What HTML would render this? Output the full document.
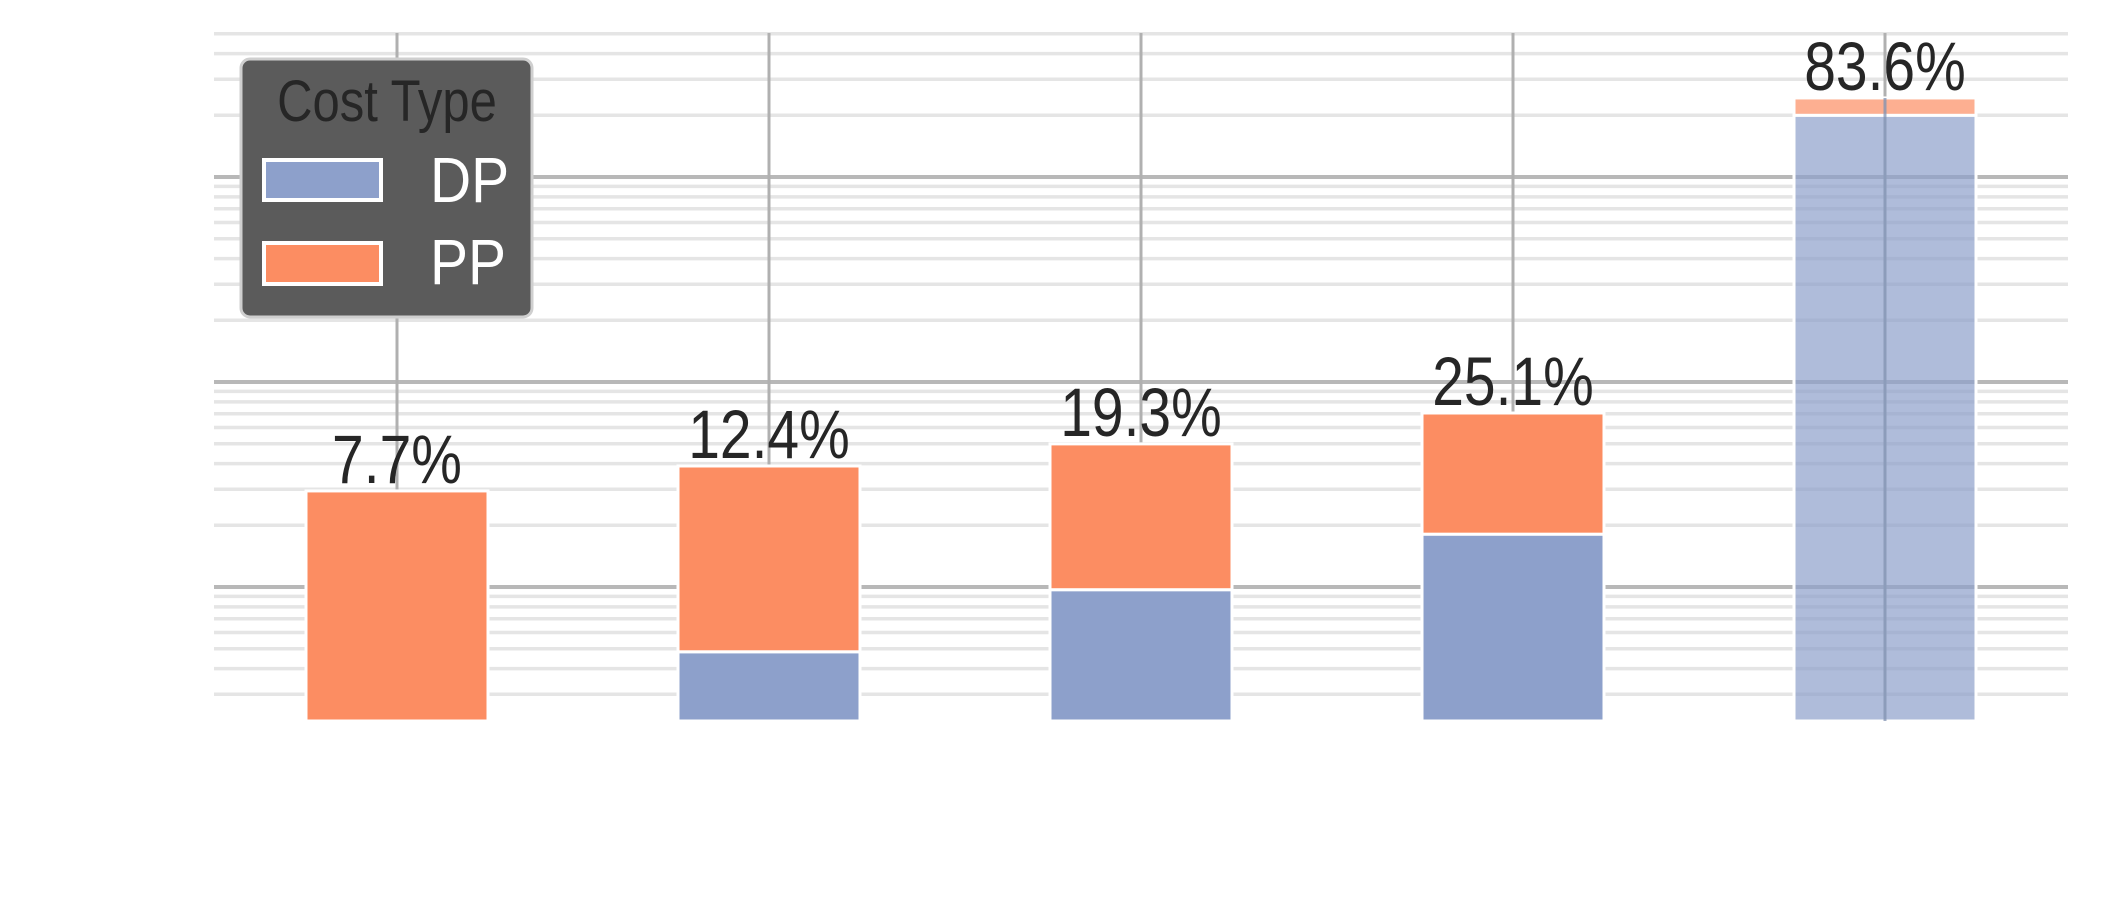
<!DOCTYPE html>
<html><head><meta charset="utf-8"><style>
html,body{margin:0;padding:0;background:#fff;}
svg{display:block;font-family:"Liberation Sans",sans-serif;}
</style></head><body>
<svg id="chart" width="2101" height="907" viewBox="0 0 2101 907" xmlns="http://www.w3.org/2000/svg">
<g id="grid"></g>
<g id="bars"></g>
<g id="labels"></g>
<g id="legend">
  <rect x="241" y="59" width="291" height="258" rx="9" fill="#5b5b5b" stroke="#cfcfcf" stroke-width="3"/>
  <text transform="translate(387,121) scale(1,1.2)" font-size="49" fill="#262626" text-anchor="middle">Cost Type</text>
  <rect x="264" y="160" width="117" height="40" fill="#8da0cb" stroke="#fff" stroke-width="4"/>
  <text transform="translate(430,202) scale(1,1.12)" font-size="57" fill="#fff">DP</text>
  <rect x="264" y="243" width="117" height="41" fill="#fc8d62" stroke="#fff" stroke-width="4"/>
  <text transform="translate(430,284) scale(1,1.12)" font-size="57" fill="#fff">PP</text>
</g>
</svg>
<script>
const categories = ["A", "B", "C", "D", "E"];
const dpValues = [0, 0.483, 0.97, 1.81, 200];
const ppValues = [2.72, 3.41, 4.02, 5.25, 43];
const labels = ["7.7%", "12.4%", "19.3%", "25.1%", "83.6%"];
const majorTicks = [1, 10, 100];
const minorTicks = [0.3,0.4,0.5,0.6,0.7,0.8,0.9,2,3,4,5,6,7,8,9,20,30,40,50,60,70,80,90,200,300,400,500];

const NS = "http://www.w3.org/2000/svg";
const plotL = 214, plotR = 2068, plotT = 33, plotB = 721;
const yMin = 0.222;
const decade = 205, y1 = 587;
function y(v){ return y1 - Math.log10(v) * decade; }
function xc(i){ return 397 + i * 372; }
const barW = 182;

function mk(tag, attrs, parent){
  const e = document.createElementNS(NS, tag);
  for (const k in attrs) e.setAttribute(k, attrs[k]);
  parent.appendChild(e);
  return e;
}
const grid = document.getElementById('grid');
minorTicks.forEach(v => {
  const l = mk('line', {x1:plotL, x2:plotR, y1:y(v), y2:y(v), stroke:'#e5e5e5', 'stroke-width':3.5}, grid);
  
  
});
majorTicks.forEach(v => {
  const l = mk('line', {x1:plotL, x2:plotR, y1:y(v), y2:y(v), stroke:'#b8b8b8', 'stroke-width':4}, grid);
  
  
});
categories.forEach((c, i) => {
  const l = mk('line', {x1:xc(i), x2:xc(i), y1:plotT, y2:plotB, stroke:'#b0b0b0', 'stroke-width':3}, grid);
  
  
});

const bars = document.getElementById('bars');
const lab = document.getElementById('labels');
categories.forEach((c, i) => {
  const alpha = i === categories.length - 1 ? 0.7 : 1;
  const base = yMin;
  const dpTop = dpValues[i] > base ? dpValues[i] : base;
  const total = dpTop + ppValues[i];
  if (dpValues[i] > base) {
    const r = mk('rect', {x:xc(i)-barW/2, y:y(dpTop), width:barW, height:y(base)-y(dpTop), fill:'#8da0cb', 'fill-opacity':alpha, stroke:'#fff', 'stroke-width':3}, bars);
    
    
  }
  const r2 = mk('rect', {x:xc(i)-barW/2, y:y(total), width:barW, height:y(dpTop)-y(total), fill:'#fc8d62', 'fill-opacity':alpha, stroke:'#fff', 'stroke-width':3}, bars);
  
  
  if (i === categories.length - 1) {
    const l = mk('line', {x1:xc(i), x2:xc(i), y1:y(total), y2:plotB, stroke:'#8a9ab8', 'stroke-width':3, 'stroke-opacity':0.8}, bars);
    
    
  }
  const t = mk('text', {transform:'translate(' + xc(i) + ',' + (y(total) - 8) + ') scale(1,1.2)', 'font-size':57, fill:'#262626', 'text-anchor':'middle'}, lab);
  t.textContent = labels[i];
  
  
});
</script>
</body></html>
